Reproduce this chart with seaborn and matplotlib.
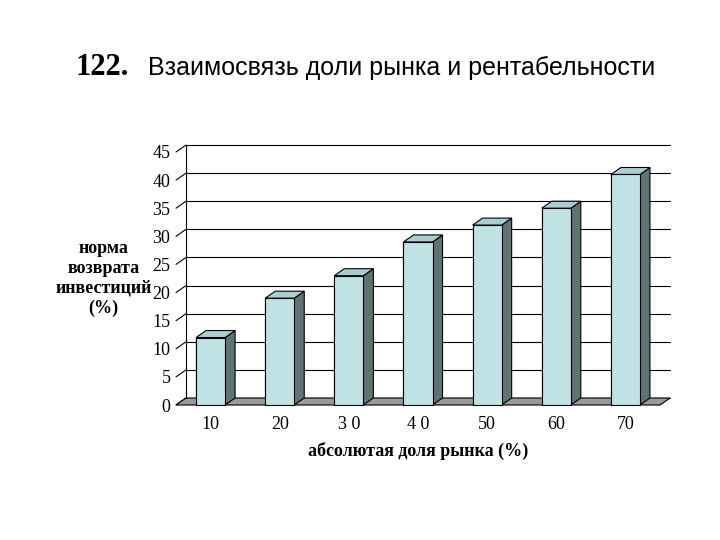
import matplotlib
matplotlib.use("Agg")
import matplotlib.pyplot as plt
import seaborn as sns
import numpy as np
from matplotlib.patches import Polygon
from matplotlib.lines import Line2D

categories = ["10", "20", "3 0", "4 0", "50", "60", "70"]
values = [12, 19, 23, 29, 32, 35, 41]
yticks = [0, 5, 10, 15, 20, 25, 30, 35, 40, 45]

sns.set_style("white")
plt.rcParams['font.family'] = ['Liberation Serif', 'DejaVu Serif']
plt.rcParams['text.color'] = 'black'
plt.rcParams['axes.labelcolor'] = 'black'
plt.rcParams['xtick.color'] = 'black'
plt.rcParams['ytick.color'] = 'black'

fig = plt.figure(figsize=(7.2, 5.4), dpi=100)
ax = fig.add_axes([176/720, (540-405)/540, (660-176)/720, (405-152)/540])
sns.barplot(x=categories, y=values, color="#bfe2e5", edgecolor="black",
            linewidth=0.8, width=0.42, ax=ax, saturation=1, zorder=3)
ax.set_xlim(-0.5, 6.5)
ax.set_ylim(0, 45)
for s in ax.spines.values():
    s.set_visible(False)
ax.set_yticks(yticks)
ax.set_yticklabels([str(t) for t in yticks], fontsize=13)
ax.tick_params(axis='y', length=0, pad=4)
ax.tick_params(axis='x', length=0, pad=8, labelsize=13)
ax.set_xlabel("абсолютая доля рынка (%)", fontsize=13, fontweight='bold', labelpad=6)
ax.set_ylabel("норма\nвозврата\nинвестиций\n(%)", fontsize=13, fontweight='bold',
              rotation=0, ha='center', va='center', labelpad=40)
ax.yaxis.set_label_coords(-0.15, 0.5)

fig.canvas.draw()
DX, DY = 10, 7
T = ax.transData
def pt(x, y, back=False):
    px, py = T.transform((x, y))
    return (px + DX, py + DY) if back else (px, py)

x0, x1 = -0.5, 6.5
for t in yticks:
    a, b = pt(x0, t, True), pt(x1, t, True)
    fig.add_artist(Line2D([a[0], b[0]], [a[1], b[1]], transform=None, color="black", lw=0.8, zorder=1))
    c = pt(x0, t)
    fig.add_artist(Line2D([c[0], a[0]], [c[1], a[1]], transform=None, color="black", lw=0.8, zorder=1))
a, b = pt(x0, 0, True), pt(x0, 45, True)
fig.add_artist(Line2D([a[0], b[0]], [a[1], b[1]], transform=None, color="black", lw=0.8))
floor = [pt(x0, 0), pt(x1, 0), pt(x1, 0, True), pt(x0, 0, True)]
fig.add_artist(Polygon(floor, closed=True, transform=None, facecolor="#9a9a9a", edgecolor="black", lw=0.8, zorder=1))

for p in ax.patches:
    xl, w, h = p.get_x(), p.get_width(), p.get_height()
    side = [pt(xl+w, 0), pt(xl+w, h), pt(xl+w, h, True), pt(xl+w, 0, True)]
    top = [pt(xl, h), pt(xl+w, h), pt(xl+w, h, True), pt(xl, h, True)]
    fig.add_artist(Polygon(side, closed=True, transform=None, facecolor="#5e7474", edgecolor="black", lw=0.8, zorder=2))
    fig.add_artist(Polygon(top, closed=True, transform=None, facecolor="#a9cdd1", edgecolor="black", lw=0.8, zorder=2))
    px0, py0 = pt(xl, 0); px1, py1 = pt(xl+w, h)
    fig.add_artist(Polygon([(px0, py0), (px1, py0), (px1, py1), (px0, py1)], closed=True,
                           transform=None, facecolor="#bfe2e5", edgecolor="black", lw=0.8, zorder=3))

fig.text(0.105, 0.862, "122.", fontsize=22, fontweight='bold', family=['Liberation Serif'])
fig.text(0.205, 0.862, "Взаимосвязь доли рынка и рентабельности", fontsize=18, family=['Liberation Sans'])

fig.savefig("out.png", dpi=100)
